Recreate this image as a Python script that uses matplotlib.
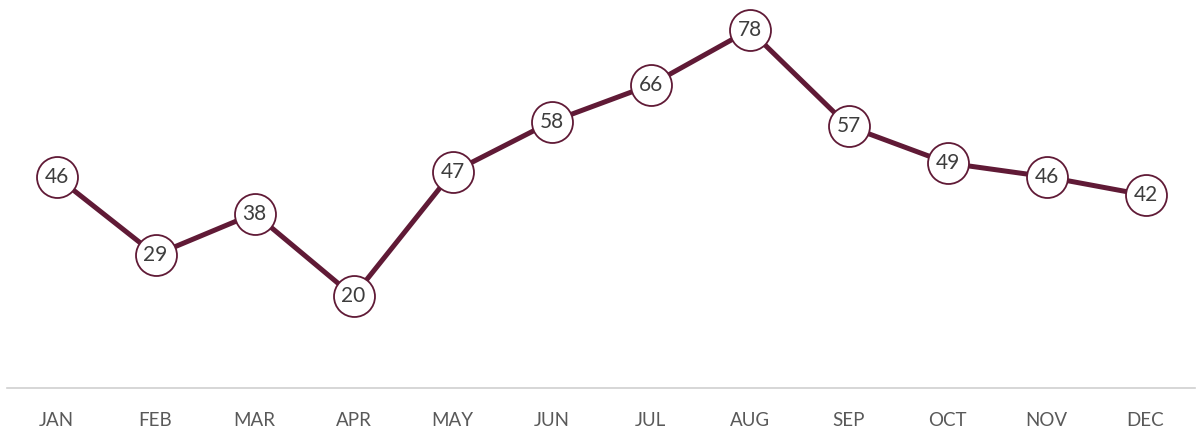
import matplotlib
matplotlib.use("Agg")
import matplotlib.pyplot as plt

months = ["JAN", "FEB", "MAR", "APR", "MAY", "JUN", "JUL", "AUG", "SEP", "OCT", "NOV", "DEC"]
values = [46, 29, 38, 20, 47, 58, 66, 78, 57, 49, 46, 42]

plt.rcParams['font.family'] = ['Lato', 'DejaVu Sans']
line_color = "#601a36"

fig = plt.figure(figsize=(12, 4.33), dpi=100)
ax = fig.add_axes([7/1200, 45/433, (1195-7)/1200, 1 - 45/433])
x = list(range(len(months)))
ax.plot(x, values, color=line_color, lw=3.6, marker="o", ms=29.5,
        mfc="white", mec=line_color, mew=1.3, zorder=3, solid_capstyle="round")
for xi, v in zip(x, values):
    ax.text(xi, v, str(v), ha="center", va="center", fontsize=15,
            color="#3d3d3d", zorder=4)

ax.set_xlim(-0.5, 11.5)
ax.set_ylim(0, 84.5)
ax.set_xticks(x)
ax.set_xticklabels(months, fontsize=13.5, color="#595959")
ax.tick_params(axis="x", length=0, pad=17)
ax.set_yticks([])
for s in ["top", "right", "left"]:
    ax.spines[s].set_visible(False)
ax.spines["bottom"].set_color("#d0d0d0")
ax.spines["bottom"].set_linewidth(1.2)
ax.set_facecolor("white")
fig.savefig("out.png", dpi=100, facecolor="white")
